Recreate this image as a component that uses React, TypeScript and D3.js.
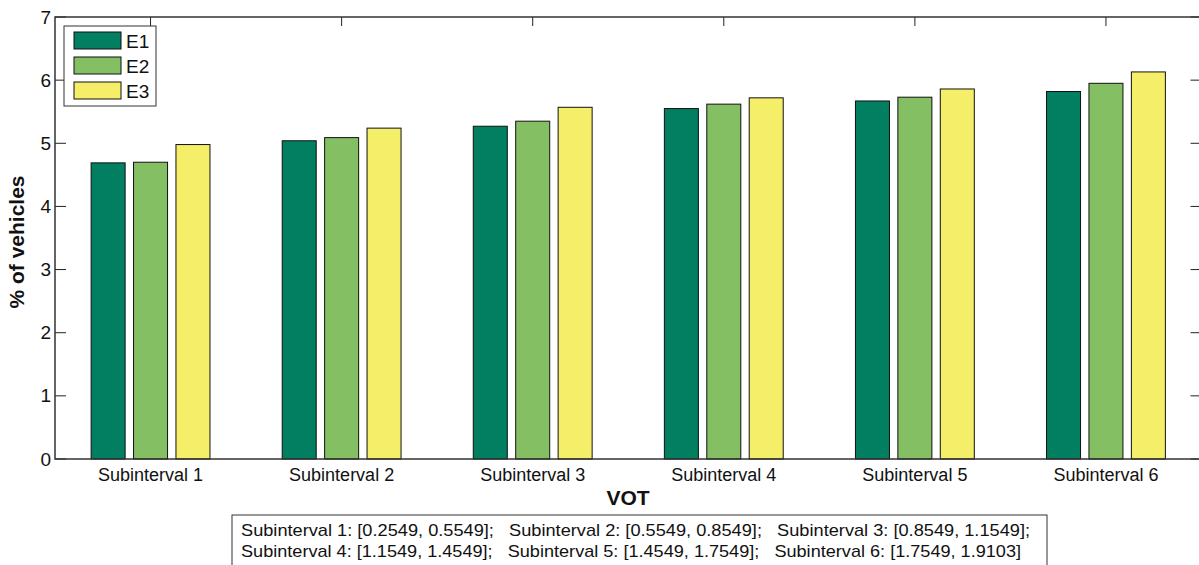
import React from "react";
import * as d3 from "d3";

const categories = ["Subinterval 1", "Subinterval 2", "Subinterval 3", "Subinterval 4", "Subinterval 5", "Subinterval 6"];
const seriesNames = ["E1", "E2", "E3"];
const e1 = [4.69, 5.04, 5.27, 5.55, 5.67, 5.82];
const e2 = [4.70, 5.09, 5.35, 5.62, 5.73, 5.95];
const e3 = [4.98, 5.24, 5.57, 5.72, 5.86, 6.13];
const yTicks = [0, 1, 2, 3, 4, 5, 6, 7];
const noteLines = [
  "Subinterval 1: [0.2549, 0.5549];   Subinterval 2: [0.5549, 0.8549];   Subinterval 3: [0.8549, 1.1549];",
  "Subinterval 4: [1.1549, 1.4549];   Subinterval 5: [1.4549, 1.7549];   Subinterval 6: [1.7549, 1.9103]",
];
const colors = ["#027F60", "#84BF64", "#F5EE68"];

export default function App() {
  const W = 1199, H = 565;
  const left = 55, right = 1201.5, top = 17, bottom = 459;
  const x = d3.scaleLinear().domain([0.5, 6.5]).range([left, right]);
  const y = d3.scaleLinear().domain([0, 7]).range([bottom, top]);
  const series = [e1, e2, e3];
  const step = x(2) - x(1);
  const barW = step * 0.178;
  const offs = step * 0.222;
  const font = "'Liberation Sans', Arial, sans-serif";
  const axisColor = "#222";
  return (
    <svg width={W} height={H} style={{ position: "absolute", left: 0, top: 0, background: "#fff" }} fontFamily={font}>
      <rect x={0} y={0} width={W} height={H} fill="#fff" />
      {yTicks.map((t) => (
        <g key={"yt" + t}>
          <line x1={left} x2={left + 11} y1={y(t)} y2={y(t)} stroke={axisColor} strokeWidth={1} />
          <line x1={right} x2={right - 11} y1={y(t)} y2={y(t)} stroke={axisColor} strokeWidth={1} />
          <text x={left - 4} y={y(t)} fontSize={19} textAnchor="end" dominantBaseline="central" fill="#111">{t}</text>
        </g>
      ))}
      {categories.map((c, i) => (
        <g key={"xt" + i}>
          <line x1={x(i + 1)} x2={x(i + 1)} y1={top} y2={top + 9} stroke={axisColor} strokeWidth={1} />
          <line x1={x(i + 1)} x2={x(i + 1)} y1={bottom} y2={bottom - 9} stroke={axisColor} strokeWidth={1} />
          <text x={x(i + 1)} y={bottom + 22} fontSize={18} textAnchor="middle" fill="#111">{c}</text>
        </g>
      ))}
      {series.map((s, k) =>
        s.map((v, i) => (
          <rect key={k + "-" + i} x={x(i + 1) + (k - 1) * offs - barW / 2} y={y(v)} width={barW} height={y(0) - y(v)}
            fill={colors[k]} stroke="#111" strokeWidth={1} />
        ))
      )}
      <rect x={left} y={top} width={right - left} height={bottom - top} fill="none" stroke="#333" strokeWidth={1.5} />
      <rect x={64} y={26} width={92} height={80} fill="#fff" stroke="#333" strokeWidth={1} />
      {seriesNames.map((n, k) => (
        <g key={n}>
          <rect x={74} y={32 + k * 25} width={47} height={17} fill={colors[k]} stroke="#111" strokeWidth={1} />
          <text x={126} y={41 + k * 25} fontSize={19} dominantBaseline="central" fill="#111">{n}</text>
        </g>
      ))}
      <text x={628} y={505} fontSize={21} fontWeight="bold" textAnchor="middle" fill="#111">VOT</text>
      <text transform={`translate(24, ${y(3.5) + 4}) rotate(-90)`} fontSize={21} fontWeight="bold" textAnchor="middle" fill="#111">% of vehicles</text>
      <rect x={232} y={515} width={815} height={60} fill="#fff" stroke="#333" strokeWidth={1} />
      {noteLines.map((l, i) => (
        <text key={i} x={241} y={536 + i * 21} fontSize={17} fill="#111" textLength={i === 0 ? 789 : 780} lengthAdjust="spacingAndGlyphs" style={{ whiteSpace: "pre" }}>{l}</text>
      ))}
    </svg>
  );
}
